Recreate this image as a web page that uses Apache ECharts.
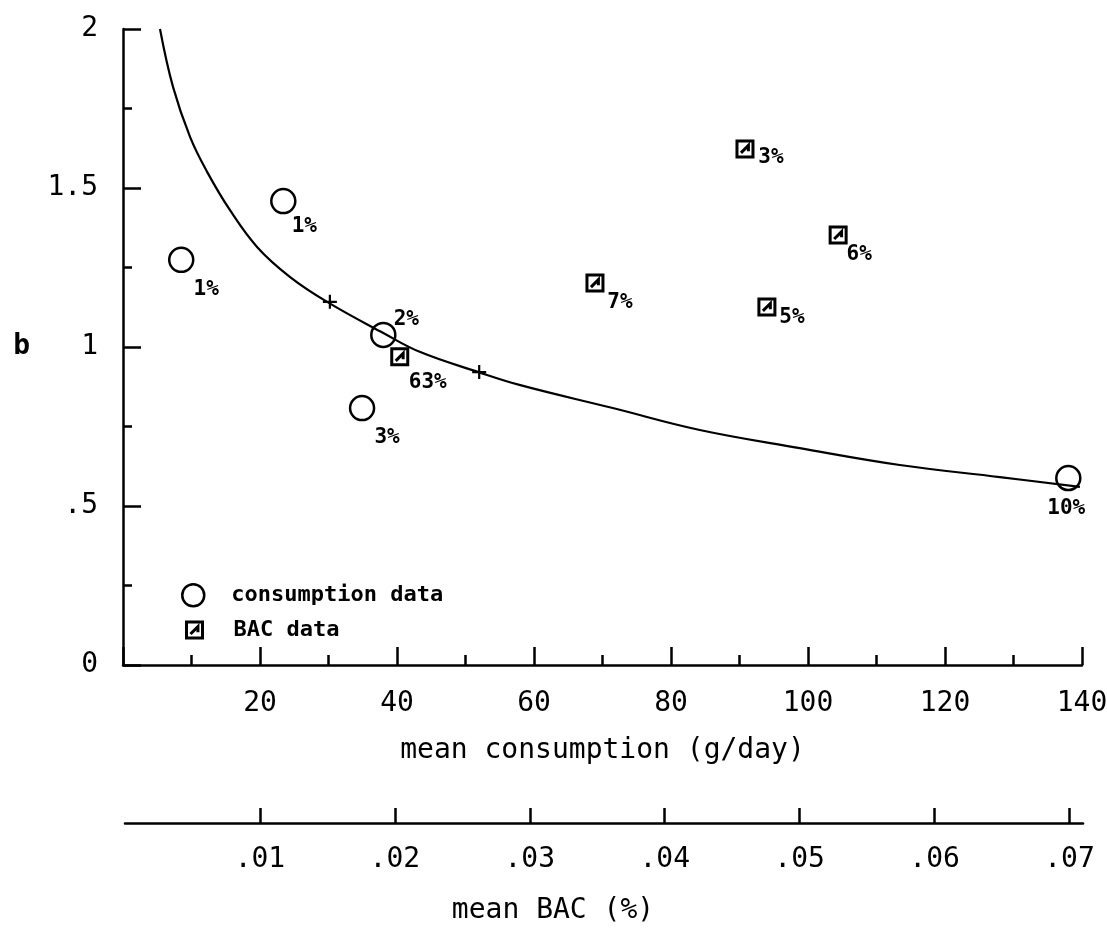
<!DOCTYPE html>
<html>
<head>
<meta charset="utf-8">
<script src="https://cdn.jsdelivr.net/npm/echarts@6/dist/echarts.min.js"></script>
<style>
html,body{margin:0;padding:0;background:#fff;}
#chart{width:1107px;height:929px;}
</style>
</head>
<body>
<div id="chart"></div>
<script>
// ---- data ----
var consX = [8.5, 23.4, 38.0, 34.9, 138.0];
var consY = [1.274, 1.459, 1.038, 0.808, 0.588];
var consLabels = ['1%', '1%', '2%', '3%', '10%'];

var bacX = [40.4, 68.9, 90.8, 94.0, 104.4];
var bacY = [0.969, 1.201, 1.623, 1.126, 1.352];
var bacLabels = ['63%', '7%', '3%', '5%', '6%'];

var curveX = [5.4, 7.3, 9.8, 12.3, 15.6, 19.6, 24.4, 29.8, 38.0, 43.4, 51.9, 58.0, 71.5, 84.2, 98.8, 113.4, 128.0, 139.7];
var curveY = [2.0, 1.818, 1.66, 1.55, 1.431, 1.314, 1.220, 1.142, 1.044, 0.984, 0.921, 0.880, 0.808, 0.739, 0.682, 0.629, 0.591, 0.560];

var markX = [30.2, 52.0];
var markY = [1.142, 0.921];

var bacTicks = [0.01, 0.02, 0.03, 0.04, 0.05, 0.06, 0.07];

// ---- layout (label offsets in px) ----
var consLabelOffset = [[25, 30], [21, 26], [23, -15], [25, 29], [-2, 31]];
var bacLabelOffset = [[28, 26], [25, 19], [26, 9], [25, 11], [21, 19]];

var FONT = "'DejaVu Sans Mono', monospace";
var squarePath = 'path://M1,1 L15,1 L15,15 L1,15 Z M4.5,11.5 L11,5 L11,10';
var crossPath = 'path://M0,6 L12,6 M6,0 L6,12';

function pts(xs, ys) { return xs.map(function (x, i) { return [x, ys[i]]; }); }
function decFmt(v) {
  if (v === 0) return '0';
  return String(v).replace(/^0\./, '.');
}

var legendText = { fontFamily: FONT, fontSize: 22, fontWeight: 'bold', color: '#000' };

var chart = echarts.init(document.getElementById('chart'), null, { renderer: 'canvas' });
chart.setOption({
  backgroundColor: '#fff',
  animation: false,
  textStyle: { fontFamily: FONT, color: '#000' },
  grid: [
    { left: 123, right: 25, top: 29, bottom: 264, outerBoundsMode: 'none', containLabel: false },
    { left: 125, right: 24, top: 780, bottom: 106, outerBoundsMode: 'none', containLabel: false }
  ],
  legend: [
    {
      orient: 'vertical', left: 176, top: 578, itemWidth: 24, itemHeight: 22,
      textStyle: Object.assign({ padding: [0, 0, 0, 21] }, legendText),
      data: [
        { name: 'consumption data', icon: 'circle', itemStyle: { color: 'rgba(0,0,0,0)', borderColor: '#000', borderWidth: 2.5, opacity: 1 } }
      ]
    },
    {
      orient: 'vertical', left: 180, top: 614, itemWidth: 16, itemHeight: 16,
      textStyle: Object.assign({ padding: [0, 0, 0, 26] }, legendText),
      data: [
        { name: 'BAC data', icon: squarePath, itemStyle: { color: 'rgba(0,0,0,0)', borderColor: '#000', borderWidth: 3, opacity: 1 } }
      ]
    }
  ],
  xAxis: [
    {
      type: 'value', gridIndex: 0, min: 0, max: 140, interval: 20,
      name: 'mean consumption (g/day)', nameLocation: 'middle', nameGap: 72,
      nameTextStyle: { fontFamily: FONT, fontSize: 28, color: '#000' },
      axisLine: { show: true, lineStyle: { color: '#000', width: 2.5 } },
      axisTick: { show: true, inside: true, length: 18, lineStyle: { color: '#000', width: 2.5 } },
      minorTick: { show: true, splitNumber: 2, length: 10, lineStyle: { color: '#000', width: 2.5 } },
      axisLabel: {
        margin: 25, fontFamily: FONT, fontSize: 28, color: '#000',
        formatter: function (v) { return v === 0 ? '' : String(v); }
      },
      splitLine: { show: false }
    },
    {
      type: 'value', gridIndex: 1, min: 0, max: 0.071,
      name: 'mean BAC (%)', nameLocation: 'middle', nameGap: 74,
      nameTextStyle: { fontFamily: FONT, fontSize: 28, color: '#000', padding: [0, 102, 0, 0] },
      axisLine: { show: true, onZero: false, lineStyle: { color: '#000', width: 2.5 } },
      axisTick: { show: true, inside: true, length: 15, customValues: bacTicks, lineStyle: { color: '#000', width: 2.5 } },
      axisLabel: {
        margin: 23, fontFamily: FONT, fontSize: 28, color: '#000', customValues: bacTicks,
        formatter: function (v) { return decFmt(Math.round(v * 100) / 100); }
      },
      splitLine: { show: false }
    }
  ],
  yAxis: [
    {
      type: 'value', gridIndex: 0, min: 0, max: 2, interval: 0.5,
      name: 'b', nameLocation: 'middle', nameGap: 93, nameRotate: 0,
      nameTextStyle: { fontFamily: FONT, fontSize: 28, fontWeight: 'bold', color: '#000' },
      axisLine: { show: true, lineStyle: { color: '#000', width: 2.5 } },
      axisTick: { show: true, inside: true, length: 18, lineStyle: { color: '#000', width: 2.5 } },
      minorTick: { show: true, splitNumber: 2, length: 9, lineStyle: { color: '#000', width: 2.5 } },
      axisLabel: { margin: 25, fontFamily: FONT, fontSize: 28, color: '#000', formatter: decFmt },
      splitLine: { show: false }
    },
    { type: 'value', gridIndex: 1, min: 0, max: 1, show: false }
  ],
  series: [
    {
      name: 'fit', type: 'line', xAxisIndex: 0, yAxisIndex: 0,
      data: pts(curveX, curveY), smooth: 0.4,
      showSymbol: false, symbol: 'none',
      lineStyle: { color: '#000', width: 2.2 }, z: 1, silent: true
    },
    {
      name: 'marks', type: 'scatter', xAxisIndex: 0, yAxisIndex: 0,
      data: pts(markX, markY), symbol: crossPath, symbolSize: 14,
      itemStyle: { color: 'rgba(0,0,0,0)', borderColor: '#000', borderWidth: 2.2, opacity: 1 }, z: 2
    },
    {
      name: 'consumption data', type: 'scatter', xAxisIndex: 0, yAxisIndex: 0,
      symbol: 'circle', symbolSize: 24,
      itemStyle: { color: 'rgba(0,0,0,0)', borderColor: '#000', borderWidth: 2.5, opacity: 1 },
      data: consX.map(function (x, i) {
        return { value: [x, consY[i]], label: { offset: consLabelOffset[i] } };
      }),
      label: {
        show: true, position: 'inside', fontFamily: FONT, fontSize: 21, fontWeight: 'bold', color: '#000',
        formatter: function (p) { return consLabels[p.dataIndex]; }
      },
      z: 3
    },
    {
      name: 'BAC data', type: 'scatter', xAxisIndex: 0, yAxisIndex: 0,
      symbol: squarePath, symbolSize: 16,
      itemStyle: { color: 'rgba(0,0,0,0)', borderColor: '#000', borderWidth: 3, opacity: 1 },
      data: bacX.map(function (x, i) {
        return { value: [x, bacY[i]], label: { offset: bacLabelOffset[i] } };
      }),
      label: {
        show: true, position: 'inside', fontFamily: FONT, fontSize: 21, fontWeight: 'bold', color: '#000',
        formatter: function (p) { return bacLabels[p.dataIndex]; }
      },
      z: 3
    }
  ]
});
</script>
</body>
</html>
